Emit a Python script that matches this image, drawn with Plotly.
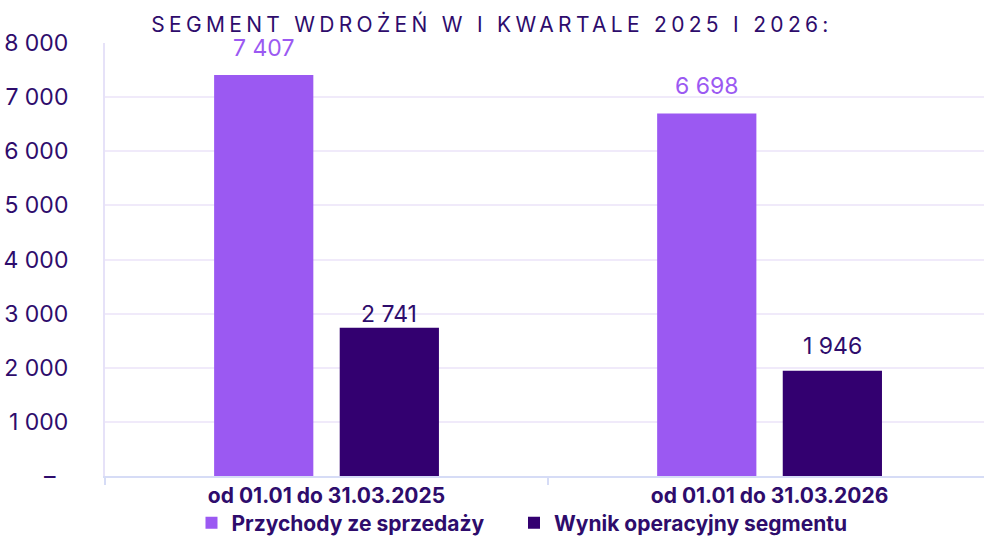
import plotly.graph_objects as go

categories = ["od 01.01 do 31.03.2025", "od 01.01 do 31.03.2026"]
series_names = ["Przychody ze sprzedaży", "Wynik operacyjny segmentu"]
revenue = [7407, 6698]
operating = [2741, 1946]
tick_values = [0, 1000, 2000, 3000, 4000, 5000, 6000, 7000, 8000]
tick_labels = ["–\u00a0\u00a0", "1 000", "2 000", "3 000", "4 000", "5 000", "6 000", "7 000", "8 000"]
title_text = "SEGMENT WDROŻEŃ W I KWARTALE 2025 I 2026:"

LIGHT = "#9b59f2"
DARK = "#330070"
TEXT = "#2e0c6c"
FONT = "Inter"

fig = go.Figure()
fig.add_trace(go.Bar(x=categories, y=revenue, name=series_names[0], marker_color=LIGHT,
                     marker_line_width=0, legend="legend"))
fig.add_trace(go.Bar(x=categories, y=operating, name=series_names[1], marker_color=DARK,
                     marker_line_width=0, legend="legend2"))

def fmt(v):
    return f"{v:,}".replace(",", " ")

label_shift = [[27, 27], [14, 25]]
label_colors = [LIGHT, TEXT]
offsets = [-0.1417, 0.1417]
for si, vals in enumerate([revenue, operating]):
    for ci, v in enumerate(vals):
        fig.add_annotation(x=ci + offsets[si], y=v, text=fmt(v), showarrow=False,
                           xref="x", yref="y", yshift=label_shift[si][ci],
                           font=dict(family=FONT, size=23, color=label_colors[si]))

legend_style = dict(orientation="h", y=-0.109, yanchor="middle", xanchor="left",
                    font=dict(family=FONT, size=21, color=TEXT, weight="bold"),
                    itemwidth=30)

fig.update_layout(
    width=984, height=560,
    margin=dict(l=105, r=0, t=43, b=84, autoexpand=False),
    paper_bgcolor="white", plot_bgcolor="white",
    barmode="group", bargap=0.433, bargroupgap=0.21,
    title=dict(text=f'<span style="letter-spacing:4.3px">{title_text}</span>',
               x=0.5, xanchor="center", y=0.9568, yanchor="middle",
               font=dict(family=FONT, size=21, color=TEXT)),
    showlegend=True,
    legend=dict(x=0.0984, **legend_style),
    legend2=dict(x=0.4653, **legend_style),
    xaxis=dict(type="category", range=[-0.5, 1.484], automargin=False,
               showline=True, linecolor="#d6dcf6", linewidth=2,
               ticks="outside", tickson="boundaries", ticklen=7, tickcolor="#d6dcf6", tickwidth=2,
               tickfont=dict(family=FONT, size=21, color=TEXT, weight="bold"),
               showgrid=False),
    yaxis=dict(range=[0, 8000], tickvals=tick_values, ticktext=tick_labels, automargin=False,
               showline=True, linecolor="#e6e2f8", linewidth=2,
               showgrid=True, gridcolor="#f0eafa", gridwidth=2,
               zeroline=False, ticks="", ticklabelstandoff=30,
               tickfont=dict(family=FONT, size=23, color=TEXT)),
)

fig.write_html("out.html", config={"displayModeBar": False},
               post_script="document.body.style.margin='0';document.body.style.overflow='hidden';")
